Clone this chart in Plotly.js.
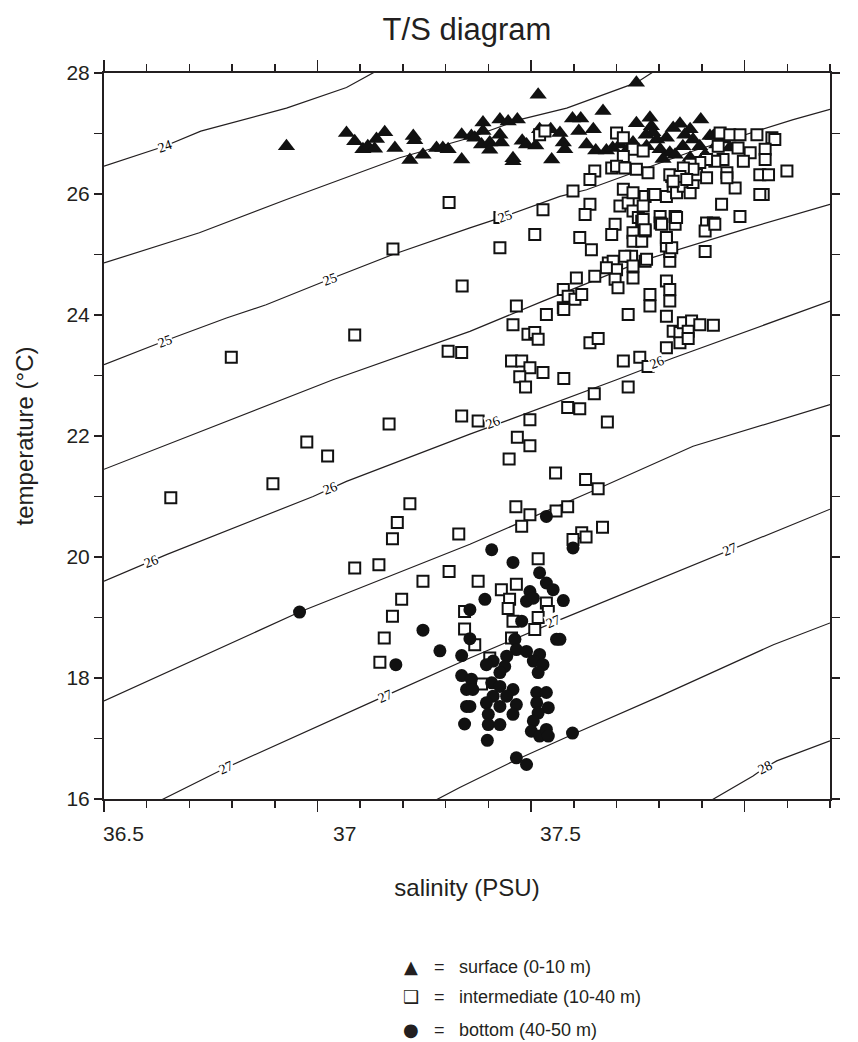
<!DOCTYPE html>
<html><head><meta charset="utf-8">
<script src="https://cdn.plot.ly/plotly-3.0.1.min.js"></script>
<style>html,body{margin:0;padding:0;background:#fff}#chart{width:858px;height:1042px}</style>
</head><body><div id="chart"></div>
<script>
// ---------- data (salinity PSU, temperature °C) ----------
const surfaceSal = [36.877,37.001,37.018,37.035,37.045,37.059,37.063,37.080,37.101,37.132,37.139,37.142,37.159,37.187,37.200,37.211,37.239,37.239,37.259,37.266,37.283,37.283,37.280,37.297,37.318,37.335,37.354,37.318,37.321,37.345,37.364,37.373,37.392,37.397,37.400,37.423,37.425,37.442,37.449,37.452,37.468,37.485,37.481,37.511,37.497,37.516,37.538,37.531,37.600,37.600,37.628,37.631,37.642,37.662,37.676,37.690,37.733,37.649,37.669,37.717,37.621,37.593,37.759,37.779,37.634,37.711,37.752,37.696,37.731,37.766,37.551,37.566,37.582,37.297,37.680,37.711,37.742,37.793,37.345,37.655,37.700,37.620];
const surfaceTemp = [26.79,27.01,26.87,26.74,26.79,26.75,26.91,27.02,26.76,26.56,26.96,26.89,26.65,26.76,26.76,26.74,26.98,26.57,26.96,26.93,27.18,27.04,26.82,26.85,27.23,27.20,27.23,26.98,26.85,26.59,26.88,26.82,26.80,27.64,27.07,27.07,26.57,27.01,26.85,26.74,27.25,27.25,27.04,27.07,26.82,26.72,26.72,27.37,27.84,27.17,27.26,27.12,26.90,26.93,27.09,27.16,27.23,26.74,26.68,26.90,26.79,26.85,26.96,26.90,27.02,27.07,26.96,26.79,26.79,26.82,26.76,26.82,26.74,26.73,26.65,26.60,26.65,26.77,26.54,26.58,26.98,26.98];

const intermediateSal = [
 37.213,37.097,37.240,36.763,37.018,37.211,37.239,37.089,37.239,36.919,
 36.962,36.849,36.638,37.132,37.106,37.096,37.233,37.018,37.068,37.213,
 37.159,37.115,37.096,37.079,37.070,37.245,37.245,
 37.400,37.411,37.559,37.573,37.593,37.573,37.549,37.559,37.576,37.600,
 37.624,37.514,37.504,37.469,37.407,37.318,37.390,37.318,37.504,37.494,
 37.556,37.549,37.483,37.507,37.566,37.583,37.593,37.604,37.611,37.593,
 37.593,37.611,37.618,37.590,37.576,37.542,37.552,37.559,37.538,37.556,
 37.562,37.593,37.593,37.618,37.476,37.514,37.449,37.459,37.473,37.487,
 37.449,37.414,37.352,37.583,37.628,37.628,37.662,37.669,37.669,37.618,
 37.635,37.662,37.673,37.676,37.683,37.649,37.649,37.680,37.680,37.690,
 37.697,37.711,37.717,37.724,37.745,37.745,37.759,37.742,37.742,37.776,
 37.804,37.814,37.787,37.787,37.669,37.669,37.621,37.662,37.662,37.573,
 37.593,
 37.773,37.793,37.814,37.849,37.880,37.886,37.810,37.835,37.866,37.866,
 37.821,37.911,37.855,37.873,37.862,37.855,37.669,37.638,37.614,37.614,
 37.618,37.652,37.683,37.673,37.662,37.769,37.779,37.762,37.745,37.731,
 37.711,37.717,37.697,37.690,37.704,37.676,37.762,37.614,
 37.345,37.450,37.376,37.390,37.397,37.504,37.521,37.662,37.676,37.690,
 37.697,37.714,37.707,37.731,37.759,37.690,37.707,37.662,37.573,37.607,
 37.624,37.342,37.363,37.380,37.407,37.359,37.371,37.450,37.583,37.513,
 37.458,37.483,37.540,37.380,37.273,37.354,37.380,37.337,37.433,37.495,
 37.521,37.351,37.380,37.363,37.434,37.458,37.487,37.496,37.469,37.530,
 37.397,
 37.273,37.321,37.352,37.338,37.335,37.266,37.345,37.414,37.418,37.397,37.390,37.342,37.297,37.280];
const intermediateTemp = [
 25.86,25.09,24.48,23.30,23.67,23.40,23.38,22.20,22.33,21.90,
 21.67,21.21,20.98,20.88,20.57,20.30,20.38,19.82,19.87,19.76,
 19.60,19.30,19.02,18.66,18.26,19.10,18.81,
 26.98,27.04,27.01,26.93,26.74,26.62,26.43,26.46,26.43,26.41,
 26.35,26.38,26.24,26.05,25.74,25.61,25.33,25.11,25.83,25.66,
 25.50,25.33,25.28,25.08,25.80,25.85,25.72,25.61,25.55,25.36,
 25.22,25.22,25.39,24.97,24.97,24.86,24.89,24.75,24.78,24.59,
 24.45,24.61,24.81,24.89,24.61,24.64,24.42,24.31,24.26,24.34,
 24.12,24.01,24.15,24.01,24.34,24.15,24.56,24.42,24.23,25.96,
 25.99,25.96,26.29,26.13,26.02,25.63,25.52,25.63,25.50,26.24,
 26.13,26.02,26.19,26.32,26.27,25.52,25.52,25.39,25.05,25.83,
 26.10,25.63,26.35,26.27,24.89,25.05,24.92,25.25,25.14,26.08,
 26.02,
 27.01,26.98,26.98,26.98,26.93,26.90,26.76,26.68,26.74,26.57,
 26.54,26.38,26.32,26.32,25.99,25.99,26.32,25.99,25.80,25.58,
 25.41,25.50,25.61,25.11,25.28,26.79,26.57,26.54,26.57,26.52,
 26.49,26.41,26.43,26.29,26.24,26.21,25.50,26.71,
 23.84,24.09,23.68,23.71,23.60,23.54,23.61,23.98,23.73,23.71,
 23.87,23.90,23.73,23.84,23.83,23.54,23.61,23.46,23.24,23.30,
 23.15,23.24,23.24,23.13,23.05,22.98,22.81,22.95,22.81,22.70,
 22.47,22.45,22.23,22.27,22.25,21.98,21.84,21.62,21.39,21.28,
 21.13,20.83,20.70,20.51,20.76,20.83,20.40,20.33,20.29,20.49,
 19.97,
 19.60,19.46,19.55,19.30,19.15,18.55,18.94,19.24,19.10,19.00,18.80,18.66,18.33,17.90];

const bottomSal = [
 36.904,37.159,37.194,37.103,37.239,37.239,37.249,37.249,37.245,
 37.414,37.301,37.469,37.345,37.400,37.414,37.428,37.380,37.373,37.387,
 37.287,37.449,37.256,37.363,37.435,37.442,37.256,37.349,37.352,37.373,
 37.400,37.387,37.407,37.397,37.332,37.328,37.304,37.290,37.318,37.259,
 37.262,37.301,37.318,37.345,37.304,37.332,37.290,37.318,37.352,37.345,
 37.294,37.294,37.318,37.394,37.414,37.394,37.418,37.397,37.387,37.383,
 37.400,37.414,37.418,37.256,37.292,37.468,37.352,37.373];
const bottomTemp = [
 19.09,18.79,18.45,18.22,18.37,18.04,17.81,17.53,17.24,
 20.67,20.12,20.15,19.91,19.74,19.57,19.46,19.43,19.27,19.32,
 19.30,19.28,19.13,18.94,18.64,18.64,18.65,18.64,18.47,18.44,
 18.39,18.28,18.22,18.09,18.36,18.19,18.28,18.22,18.09,17.98,
 17.81,17.92,17.86,17.81,17.70,17.70,17.59,17.53,17.56,17.40,
 17.40,17.23,17.23,17.76,17.76,17.59,17.51,17.42,17.29,17.12,
 17.04,17.15,17.04,17.53,16.97,17.09,16.68,16.57];

// isopycnal (sigma-t) lines
const iso24Sal   = [36.50,36.625,36.70,36.877,37.001,37.06];
const iso24Temp  = [26.46,26.79,27.04,27.42,27.76,28.02];
const iso245Sal  = [36.50,36.697,36.877,37.111,37.256,37.359,37.456,37.600,37.635];
const iso245Temp = [24.86,25.36,25.91,26.60,26.93,27.23,27.42,27.84,28.02];
const iso25Sal   = [36.50,36.625,36.753,36.835,36.966,37.097,37.256,37.328,37.442,37.497,37.717,37.924,38.00];
const iso25Temp  = [23.18,23.57,23.95,24.17,24.59,25.00,25.44,25.63,25.96,26.07,26.71,27.23,27.40];
const iso255Sal  = [36.50,36.973,37.256,37.407,37.621,37.821,38.00];
const iso255Temp = [21.45,22.93,23.73,24.23,24.92,25.41,25.83];
const iso26Sal   = [36.50,36.629,36.932,37.001,37.256,37.338,37.559,37.676,38.00];
const iso26Temp  = [19.60,20.04,21.00,21.25,22.03,22.27,22.93,23.29,24.23];
const iso265Sal  = [36.50,36.904,37.256,37.518,37.717,38.00];
const iso265Temp = [17.62,19.09,20.21,21.12,21.83,22.52];
const iso27Sal   = [36.61,36.753,37.080,37.256,37.435,37.773,38.00];
const iso27Temp  = [15.95,16.52,17.70,18.33,18.94,20.04,20.79];
const iso275Sal  = [37.185,37.235,37.352,37.469,37.649,37.883,38.00];
const iso275Temp = [15.98,16.19,16.65,17.07,17.70,18.55,18.91];
const iso28Sal   = [37.755,37.841,37.866,37.890,38.00];
const iso28Temp  = [15.98,16.38,16.52,16.63,16.96];

const isoLabelText = ["24","25","25","25","26","26","26","26","27","27","27","27","28"];
const isoLabelSal  = [36.625,36.625,36.966,37.328,36.598,36.966,37.304,37.642,36.753,37.080,37.428,37.793,37.866];
const isoLabelTemp = [26.78,23.56,24.59,25.63,19.93,21.14,22.22,23.21,16.52,17.70,18.94,20.12,16.52];
const isoLabelAngle = [-19,-20,-20,-20,-21,-21,-21,-21,-24,-24,-23,-22,-26];

// axis ticks / labels
const xTickText = ["36.5","37","37.5","38"];
const xTickTextPos = [36.540,36.997,37.444,38.017];
const xTickCount = 17;
const yTickVals = [16,18,20,22,24,26,28];

const legendSymbols = ["\u25B2","\u2751","\u25CF"];
const legendLabels = ["surface (0-10 m)","intermediate (10-40 m)","bottom (40-50 m)"];

// ---------- build ----------
const INK = '#231f20';
const xMin = 36.5, xMax = 38;
const xMinor = [], xMajor = [];
for (let k = 0; k <= xTickCount; k++) {
  const v = xMin + k * (xMax - xMin) / xTickCount;
  xMinor.push(v);
  if (k % 5 === 0 && k < xTickCount) xMajor.push(v);
}

const isoLines = [
  [iso24Sal, iso24Temp],[iso245Sal, iso245Temp],[iso25Sal, iso25Temp],
  [iso255Sal, iso255Temp],[iso26Sal, iso26Temp],[iso265Sal, iso265Temp],
  [iso27Sal, iso27Temp],[iso275Sal, iso275Temp],[iso28Sal, iso28Temp]
];
const traces = isoLines.map(([s, t]) => ({
  x: s, y: t, type: 'scatter', mode: 'lines',
  line: {color: INK, width: 1.2}, hoverinfo: 'skip'
}));

traces.push({
  x: surfaceSal, y: surfaceTemp, type: 'scatter', mode: 'markers', name: 'surface',
  marker: {symbol: 'triangle-up', size: 15, color: '#111', line: {width: 0}}
});
traces.push({
  x: intermediateSal, y: intermediateTemp, type: 'scatter', mode: 'markers', name: 'intermediate',
  marker: {symbol: 'square', size: 11, color: '#fff', line: {color: '#111', width: 2}}
});
traces.push({
  x: bottomSal, y: bottomTemp, type: 'scatter', mode: 'markers', name: 'bottom',
  marker: {symbol: 'circle', size: 13, color: '#111', line: {width: 0}}
});

const annotations = [];
// contour labels
isoLabelText.forEach((t, i) => annotations.push({
  x: isoLabelSal[i], y: isoLabelTemp[i], xref: 'x', yref: 'y', text: t,
  showarrow: false, textangle: isoLabelAngle[i], bgcolor: '#fff', borderpad: 0,
  font: {family: '"Liberation Serif", "DejaVu Serif", serif', size: 14, color: '#000'}
}));
// x tick labels
xTickText.forEach((t, i) => annotations.push({
  x: xTickTextPos[i], y: -0.048, xref: 'x', yref: 'paper', text: t, showarrow: false,
  xanchor: 'center', yanchor: 'middle', font: {size: 21, color: INK}
}));
// legend
const rowY = [-0.231, -0.2725, -0.318];
legendLabels.forEach((lab, i) => {
  annotations.push({x: 0.4229, y: rowY[i], xref: 'paper', yref: 'paper', text: legendSymbols[i],
    showarrow: false, xanchor: 'center', yanchor: 'middle',
    font: {family: '"DejaVu Sans", sans-serif', size: 18, color: INK}});
  annotations.push({x: 0.4628, y: rowY[i], xref: 'paper', yref: 'paper', text: '=',
    showarrow: false, xanchor: 'center', yanchor: 'middle', font: {size: 18, color: INK}});
  annotations.push({x: 0.486, y: rowY[i], xref: 'paper', yref: 'paper', text: lab,
    showarrow: false, xanchor: 'left', yanchor: 'middle', font: {size: 18, color: INK}});
});

const layout = {
  width: 858, height: 1042,
  margin: {l: 104, r: 28, t: 73, b: 243, pad: 0},
  paper_bgcolor: '#fff', plot_bgcolor: '#fff',
  showlegend: false,
  font: {family: '"Liberation Sans", Arial, Helvetica, sans-serif', color: INK},
  title: {text: 'T/S diagram', font: {size: 31, color: INK}, x: 0.5, xref: 'paper',
          y: 0.972, yref: 'container', yanchor: 'middle'},
  xaxis: {
    range: [xMin, xMax], tickmode: 'array', tickvals: xMajor, showticklabels: false,
    ticks: 'outside', ticklen: 11, tickwidth: 1.5, tickcolor: INK,
    showline: true, linewidth: 2, linecolor: INK, mirror: 'allticks',
    showgrid: false, zeroline: false,
    minor: {tickmode: 'array', tickvals: xMinor, ticks: 'outside', ticklen: 7,
            tickwidth: 1.5, tickcolor: INK, showgrid: false},
    title: {text: 'salinity (PSU)', font: {size: 24, color: INK}, standoff: 68}
  },
  yaxis: {
    range: [16, 28], tickmode: 'array', tickvals: yTickVals,
    ticks: 'outside', ticklen: 8, tickwidth: 1.5, tickcolor: INK,
    tickfont: {size: 21, color: INK},
    showline: true, linewidth: 2, linecolor: INK, mirror: 'allticks',
    showgrid: false, zeroline: false,
    minor: {dtick: 1, tick0: 16, ticks: 'outside', ticklen: 8, tickwidth: 1.5, tickcolor: INK, showgrid: false},
    title: {text: 'temperature (°C)', font: {size: 24, color: INK}, standoff: 26}
  },
  annotations: annotations
};

Plotly.newPlot('chart', traces, layout, {displayModeBar: false, staticPlot: true});
</script>
</body></html>
